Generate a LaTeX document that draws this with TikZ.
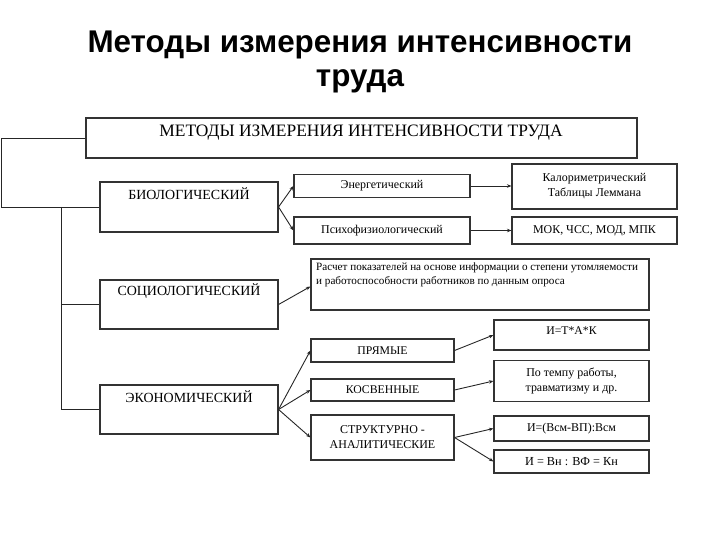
\documentclass[tikz,border=0pt]{standalone}
\usepackage{fontspec}
\setmainfont{Liberation Serif}
\newfontfamily\titlefont{Liberation Sans}
\usetikzlibrary{arrows.meta}
\tikzset{
  box/.style={draw=black!80, line width=1.1bp, rectangle, inner sep=0pt},
  txt/.style={inner sep=0pt, align=center, text=black},
  conn/.style={draw=black!85, line width=0.9bp},
  arr/.style={conn, -{Stealth[length=4.5bp,width=3.5bp]}},
}
\begin{document}
\begin{tikzpicture}[x=1bp,y=-1bp]
\useasboundingbox (0,0) rectangle (720,540);
% title
\node[txt, font=\titlefont\bfseries\fontsize{31.5}{34}\selectfont] (title) at (360,62)
  {Методы измерения интенсивности\\труда};
% top box
\node[box, minimum width=551bp, minimum height=40bp] (top) at (361.5,138) {};
\node[txt, font=\fontsize{17.5}{20}\selectfont, anchor=center] (toptxt) at (361,133) {МЕТОДЫ ИЗМЕРЕНИЯ ИНТЕНСИВНОСТИ ТРУДА};
% level 1
\node[box, minimum width=178bp, minimum height=50bp] (bio) at (189,207) {};
\node[txt, font=\fontsize{14}{16}\selectfont] (biotxt) at (189,194) {БИОЛОГИЧЕСКИЙ};
\node[box, minimum width=178bp, minimum height=49bp] (soc) at (189,304.5) {};
\node[txt, font=\fontsize{14}{16}\selectfont] (soctxt) at (189,291) {СОЦИОЛОГИЧЕСКИЙ};
\node[box, minimum width=178bp, minimum height=49bp] (eco) at (189,409.5) {};
\node[txt, font=\fontsize{14}{16}\selectfont] (ecotxt) at (189,397) {ЭКОНОМИЧЕСКИЙ};
% biological branch
\node[box, minimum width=176bp, minimum height=23bp, font=\fontsize{12}{14}\selectfont] (ener) at (382,186) {Энергетический};
\node[box, minimum width=176bp, minimum height=27bp, font=\fontsize{12}{14}\selectfont] (psy) at (382,230.5) {Психофизиологический};
\node[box, minimum width=165bp, minimum height=45bp, align=center, font=\fontsize{12}{15}\selectfont] (kal) at (594.5,186.5) {Калориметрический\\Таблицы Леммана};
\node[box, minimum width=165bp, minimum height=27bp, font=\fontsize{12}{14}\selectfont] (mok) at (594.5,230.5) {МОК, ЧСС, МОД, МПК};
% sociological branch
\node[box, minimum width=338bp, minimum height=51bp] (ras) at (480,284.5) {};
\node[txt, align=left, anchor=north west, font=\fontsize{11.2}{14}\selectfont] (rastxt) at (316,263)
  {Расчет показателей на основе информации о степени утомляемости\\и работоспособности работников по данным опроса};
% economic branch
\node[box, minimum width=143bp, minimum height=23bp, font=\fontsize{11.8}{14}\selectfont] (pr) at (382.5,350.5) {ПРЯМЫЕ};
\node[box, minimum width=143bp, minimum height=22bp, font=\fontsize{11.8}{14}\selectfont] (kos) at (382.5,390) {КОСВЕННЫЕ};
\node[box, minimum width=143bp, minimum height=45bp, align=center, font=\fontsize{12}{15}\selectfont] (str) at (382.5,437.5) {СТРУКТУРНО -\\АНАЛИТИЧЕСКИЕ};
\node[box, minimum width=155bp, minimum height=30bp] (itak) at (571.5,335) {};
\node[txt, font=\fontsize{11.8}{14}\selectfont] (itaktxt) at (571.5,331) {И=Т*А*К};
\node[box, minimum width=155bp, minimum height=41bp, align=center, font=\fontsize{12}{15}\selectfont] (tempo) at (571.5,381) {По темпу работы,\\травматизму и др.};
\node[box, minimum width=155bp, minimum height=25bp, font=\fontsize{12}{14}\selectfont] (f1) at (571.5,428.5) {И=(Всм-ВП):Всм};
\node[box, minimum width=155bp, minimum height=23bp, font=\fontsize{12.3}{14}\selectfont] (f2) at (571.5,461.5) {И = Вн : ВФ = Кн};
% tree
\coordinate (c1) at (1,138);
\coordinate (c2) at (1,207);
\coordinate (c3) at (61,207);
\coordinate (c4) at (61,304.5);
\coordinate (c5) at (61,409.5);
\draw[conn] (top.west) -- (c1) -- (c2) -- (bio.west);
\draw[conn] (c3) -- (c5) -- (eco.west);
\draw[conn] (c4) -- (soc.west);
% arrows
\draw[arr] (bio.east) -- (ener.west);
\draw[arr] (bio.east) -- (psy.west);
\draw[arr] (ener.east) -- (ener.east -| kal.west);
\draw[arr] (psy.east) -- (mok.west);
\draw[arr] (soc.east) -- ([yshift=-2bp]ras.west);
\draw[arr] (eco.east) -- (pr.west);
\draw[arr] (eco.east) -- (kos.west);
\draw[arr] (eco.east) -- (str.west);
\draw[arr] (pr.east) -- (itak.west);
\draw[arr] (kos.east) -- (tempo.west);
\draw[arr] (str.east) -- (f1.west);
\draw[arr] (str.east) -- (f2.west);
\end{tikzpicture}
\end{document}
